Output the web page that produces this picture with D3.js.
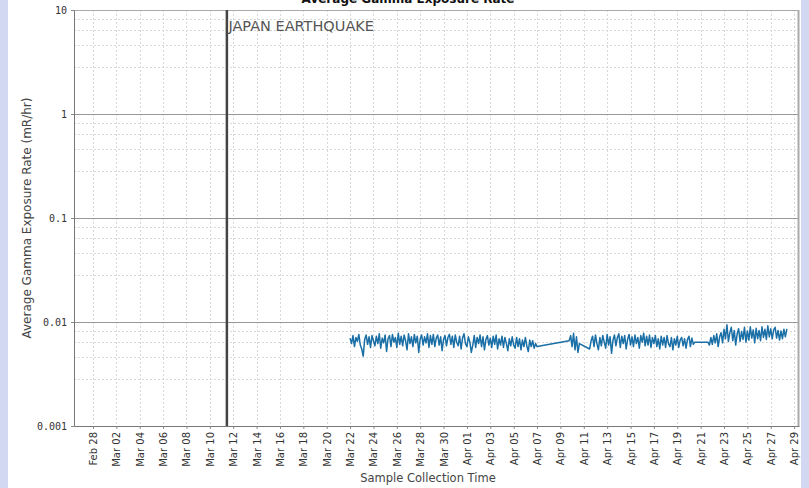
<!DOCTYPE html>
<html><head><meta charset="utf-8">
<script src="https://cdn.jsdelivr.net/npm/d3@7"></script>
<style>body{margin:0;background:#fff;}svg{display:block;}</style>
</head><body>
<svg id="c" width="809" height="488"></svg>
<script>
// ---- data ----
const chartTitle = "Average Gamma Exposure Rate";
const yLabel = "Average Gamma Exposure Rate (mR/hr)";
const xLabel = "Sample Collection Time";
const eventLabel = "JAPAN EARTHQUAKE";
const eventTime = "2011-03-11T11:00";
const xDomain = ["2011-02-26T09:00", "2011-04-29T10:00"];
const xTickDates = ["2011-02-28","2011-03-02","2011-03-04","2011-03-06","2011-03-08","2011-03-10","2011-03-12","2011-03-14","2011-03-16","2011-03-18","2011-03-20","2011-03-22","2011-03-24","2011-03-26","2011-03-28","2011-03-30","2011-04-01","2011-04-03","2011-04-05","2011-04-07","2011-04-09","2011-04-11","2011-04-13","2011-04-15","2011-04-17","2011-04-19","2011-04-21","2011-04-23","2011-04-25","2011-04-27","2011-04-29"];
const yTicks = [0.001, 0.01, 0.1, 1, 10];
const yTickLabels = ["0.001", "0.01", "0.1", "1", "10"];
const yMinorMultipliers = [2.8, 4.6, 6.4, 8.2];
const stepHours = 3;

const seg1Start = "2011-03-22T00:00";
const seg1Values = [
0.0070,0.0062,0.0074,0.0058,0.0071,0.0065,0.0076,0.0060,0.0055,0.0047,0.0068,0.0075,0.0061,0.0072,0.0057,0.0074,
0.0066,0.0059,0.0073,0.0062,0.0077,0.0056,0.0070,0.0063,0.0075,0.0052,0.0069,0.0074,0.0058,0.0076,0.0064,0.0071,
0.0057,0.0078,0.0061,0.0073,0.0059,0.0075,0.0066,0.0054,0.0077,0.0062,0.0072,0.0058,0.0076,0.0063,0.0073,0.0051,
0.0069,0.0075,0.0060,0.0072,0.0063,0.0077,0.0057,0.0074,0.0061,0.0076,0.0058,0.0070,0.0075,0.0060,0.0072,0.0053,
0.0068,0.0074,0.0059,0.0071,0.0076,0.0061,0.0073,0.0057,0.0075,0.0064,0.0059,0.0073,0.0055,0.0070,0.0077,0.0062,
0.0058,0.0072,0.0064,0.0051,0.0060,0.0074,0.0057,0.0071,0.0062,0.0075,0.0058,0.0072,0.0054,0.0068,0.0074,0.0060,
0.0070,0.0057,0.0073,0.0061,0.0075,0.0055,0.0069,0.0060,0.0073,0.0057,0.0071,0.0062,0.0053,0.0069,0.0059,0.0072,
0.0060,0.0056,0.0071,0.0058,0.0069,0.0054,0.0067,0.0058,0.0071,0.0059,0.0052,0.0067,0.0058,0.0066,0.0056,0.0062,
0.0058];

const seg2Start = "2011-04-09T18:00";
const seg2Values = [0.0066,0.0074,0.0058,0.0078,0.0054,0.0072,0.0051,0.0062];

const seg3Start = "2011-04-11T12:00";
const seg3Values = [
0.0055,0.0066,0.0073,0.0058,0.0075,0.0062,0.0054,0.0071,
0.0059,0.0074,0.0064,0.0056,0.0076,0.0060,0.0072,0.0050,
0.0067,0.0075,0.0059,0.0071,0.0077,0.0057,0.0073,0.0062,
0.0074,0.0055,0.0068,0.0076,0.0060,0.0072,0.0058,0.0075,
0.0062,0.0071,0.0056,0.0074,0.0064,0.0078,0.0059,0.0073,
0.0060,0.0075,0.0057,0.0071,0.0062,0.0074,0.0058,0.0069,
0.0055,0.0073,0.0060,0.0071,0.0057,0.0074,0.0062,0.0058,
0.0071,0.0054,0.0069,0.0060,0.0073,0.0057,0.0067,0.0071,
0.0059,0.0069,0.0056,0.0068,0.0073,0.0058,0.0070,0.0061,
0.0064];

const seg4Start = "2011-04-21T15:00";
const seg4Values = [
0.0064,0.0060,0.0071,0.0061,0.0074,0.0063,0.0077,0.0058,
0.0072,0.0079,0.0063,0.0085,0.0069,0.0094,0.0065,0.0079,
0.0089,0.0066,0.0083,0.0060,0.0077,0.0086,0.0065,0.0081,
0.0068,0.0089,0.0064,0.0082,0.0067,0.0090,0.0070,0.0084,
0.0063,0.0087,0.0069,0.0083,0.0066,0.0090,0.0071,0.0085,
0.0068,0.0092,0.0072,0.0086,0.0069,0.0084,0.0089,0.0070,
0.0083,0.0067,0.0082,0.0069,0.0085,0.0072,0.0086];

// ---- build ----
const parseT = d3.timeParse("%Y-%m-%dT%H:%M");
const parseD = d3.timeParse("%Y-%m-%d");
const segments = [[seg1Start, seg1Values],[seg2Start, seg2Values],[seg3Start, seg3Values],[seg4Start, seg4Values]];
const points = [];
segments.forEach(([s, vals]) => {
  const t0 = parseT(s);
  vals.forEach((v, i) => points.push({t: d3.timeHour.offset(t0, i * stepHours), v}));
});

const W = 809, H = 488;
const m = {left: 74, right: 799, top: 10, bottom: 426};
const svg = d3.select("#c");

// side strips
svg.append("rect").attr("x",0).attr("y",0).attr("width",8).attr("height",H).attr("fill","#d2d8f1");
svg.append("rect").attr("x",801).attr("y",0).attr("width",8).attr("height",H).attr("fill","#d2d8f1");

const x = d3.scaleTime().domain(xDomain.map(parseT)).range([m.left, m.right]);
const y = d3.scaleLog().domain([0.001, 10]).range([m.bottom, m.top]);
const ticks = xTickDates.map(parseD);

const g = svg.append("g");
g.append("rect").attr("x", m.left).attr("y", m.top).attr("width", m.right - m.left).attr("height", m.bottom - m.top).attr("fill", "#fff");

// minor horizontal grid
const minor = [];
yTicks.slice(0, -1).forEach(d => yMinorMultipliers.forEach(k => minor.push(d * k)));
g.selectAll(".hminor").data(minor).join("line")
  .attr("x1", m.left).attr("x2", m.right)
  .attr("y1", d => Math.round(y(d)) + 0.5).attr("y2", d => Math.round(y(d)) + 0.5)
  .attr("stroke", "#d8d8d8").attr("stroke-dasharray", "2,2").attr("stroke-width", 1);

// vertical grid
g.selectAll(".vgrid").data(ticks).join("line")
  .attr("x1", d => Math.round(x(d)) + 0.5).attr("x2", d => Math.round(x(d)) + 0.5)
  .attr("y1", m.top).attr("y2", m.bottom)
  .attr("stroke", "#d8d8d8").attr("stroke-dasharray", "2,2").attr("stroke-width", 1);

// major horizontal grid
g.selectAll(".hmajor").data(yTicks.slice(1, -1)).join("line")
  .attr("x1", m.left).attr("x2", m.right)
  .attr("y1", d => Math.round(y(d)) + 0.5).attr("y2", d => Math.round(y(d)) + 0.5)
  .attr("stroke", "#999").attr("stroke-width", 1);

// border top/right
g.append("line").attr("x1", m.left).attr("x2", m.right).attr("y1", m.top + 0.5).attr("y2", m.top + 0.5).attr("stroke", "#aaa");
g.append("line").attr("x1", m.right - 0.5).attr("x2", m.right - 0.5).attr("y1", m.top).attr("y2", m.bottom).attr("stroke", "#aaa").attr("stroke-width", 2);

// data line
const line = d3.line().x(d => x(d.t)).y(d => y(d.v));
g.append("path").datum(points).attr("d", line)
  .attr("fill", "none").attr("stroke", "#1a6fa6").attr("stroke-width", 1.5).attr("stroke-linejoin", "round");

// event marker
const ex = x(parseT(eventTime));
g.append("line").attr("x1", ex).attr("x2", ex).attr("y1", m.top).attr("y2", m.bottom)
  .attr("stroke", "#444").attr("stroke-width", 2.5);
g.append("text").attr("x", ex + 1.5).attr("y", 31).text(eventLabel)
  .attr("font-family", "DejaVu Sans").attr("font-size", 14.5).attr("fill", "#555");

// axes
const xAxis = d3.axisBottom(x).tickValues(ticks).tickFormat(d3.timeFormat("%b %d")).tickSize(3).tickSizeOuter(0);
const xg = svg.append("g").attr("transform", `translate(0,${m.bottom})`).call(xAxis);
xg.select(".domain").attr("stroke", "#777");
xg.selectAll(".tick line").attr("stroke", "#888");
xg.selectAll(".tick text")
  .attr("font-family", "DejaVu Sans").attr("font-size", 10).attr("fill", "#333")
  .attr("transform", "rotate(-90)").attr("text-anchor", "end")
  .attr("x", -6).attr("y", 0).attr("dy", "0.35em");

const yAxis = d3.axisLeft(y).tickValues(yTicks).tickFormat((d, i) => yTickLabels[i]).tickSize(3).tickSizeOuter(0);
const yg = svg.append("g").attr("transform", `translate(${m.left},0)`).call(yAxis);
yg.select(".domain").attr("stroke", "#777");
yg.selectAll(".tick line").attr("stroke", "#888");
yg.selectAll(".tick text").attr("font-family", "DejaVu Sans Mono").attr("font-size", 10).attr("fill", "#333").attr("x", -7);

// labels
svg.append("text").attr("transform", `translate(31,${(m.top + m.bottom) / 2}) rotate(-90)`)
  .attr("text-anchor", "middle").text(yLabel)
  .attr("font-family", "DejaVu Sans").attr("font-size", 12).attr("fill", "#444");
svg.append("text").attr("x", 428).attr("y", 482).attr("text-anchor", "middle").text(xLabel)
  .attr("font-family", "DejaVu Sans").attr("font-size", 11.5).attr("fill", "#444");
svg.append("text").attr("x", 408).attr("y", 3).attr("text-anchor", "middle").text(chartTitle)
  .attr("font-family", "DejaVu Sans").attr("font-weight", "bold").attr("font-size", 12).attr("fill", "#111");
</script>
</body></html>
